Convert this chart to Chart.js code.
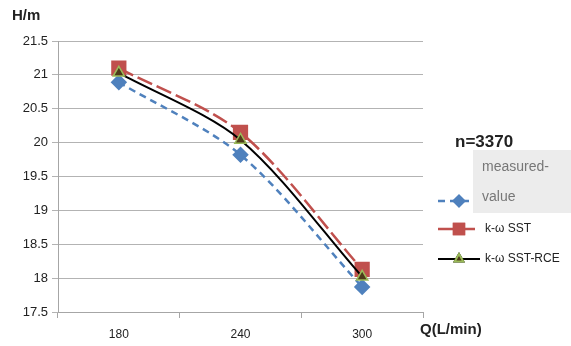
<!DOCTYPE html>
<html lang="en">
<head>
    <meta charset="UTF-8">
    <title>H-Q curve n=3370</title>
    <script src="https://cdn.jsdelivr.net/npm/chart.js"></script>
    <style>
        html, body { margin: 0; padding: 0; background: #fff; }
        #wrap { width: 571px; height: 346px; position: relative; }
    </style>
</head>
<body>
    <div id="wrap"><canvas id="hqChart"></canvas></div>

    <script>
        // Data
        const flowRates = ['180', '240', '300'];
        const measuredValue = [20.89, 19.82, 17.87];
        const kwSST = [21.1, 20.15, 18.13];
        const kwSSTRCE = [21.03, 20.04, 18.02];
        const yTicks = { min: 17.5, max: 21.5, step: 0.5 };

        const font = "'Liberation Sans', Arial, sans-serif";

        // Titles and the custom legend on the right
        const extras = {
            id: 'extras',
            afterDraw(chart) {
                const ctx = chart.ctx;
                ctx.save();
                ctx.fillStyle = '#222';
                ctx.textBaseline = 'middle';
                ctx.font = 'bold 15px ' + font;
                ctx.fillText('H/m', 12, 16);
                ctx.fillText('Q(L/min)', 420, 330);
                ctx.font = 'bold 17px ' + font;
                ctx.fillText('n=3370', 455, 142);

                const ds = chart.data.datasets;
                const rows = [201, 229, 259];
                const legendRadius = [5, 7, 5];
                ds.forEach((d, i) => {
                    const y = rows[i];
                    ctx.save();
                    ctx.strokeStyle = d.borderColor;
                    ctx.lineWidth = d.borderWidth;
                    ctx.setLineDash(d.borderDash || []);
                    ctx.beginPath();
                    ctx.moveTo(438, y);
                    ctx.lineTo(480, y);
                    ctx.stroke();
                    ctx.setLineDash([]);
                    Chart.helpers.drawPoint(ctx, {
                        pointStyle: d.pointStyle,
                        radius: legendRadius[i],
                        borderWidth: 1
                    }, 459, y);
                    ctx.fillStyle = d.pointBackgroundColor;
                    ctx.strokeStyle = d.pointBorderColor;
                    ctx.fill();
                    ctx.stroke();
                    ctx.restore();
                });

                // grey label box of the first entry
                ctx.fillStyle = '#ececec';
                ctx.fillRect(473, 150, 98, 63);
                ctx.fillStyle = '#777';
                ctx.font = '14px ' + font;
                ctx.fillText('measured-', 482, 167);
                ctx.fillText('value', 482, 197);

                ctx.fillStyle = '#222';
                ctx.font = '12px ' + font;
                ctx.fillText(ds[1].label, 485, 229);
                ctx.fillText(ds[2].label, 485, 259);
                ctx.restore();
            }
        };

        const hqChart = new Chart(document.getElementById('hqChart').getContext('2d'), {
            type: 'line',
            data: {
                labels: flowRates,
                datasets: [
                    { label: 'measured-value', data: measuredValue, order: 2,
                      borderColor: '#4f81bd', borderWidth: 2.5, borderDash: [7, 5],
                      pointStyle: 'rectRot', pointRadius: 6.5,
                      pointBackgroundColor: '#4f81bd', pointBorderColor: '#4f81bd', tension: 0.3 },
                    { label: 'k-ω SST', data: kwSST, order: 1,
                      borderColor: '#c0504d', borderWidth: 2.5, borderDash: [16, 5],
                      pointStyle: 'rect', pointRadius: 9,
                      pointBackgroundColor: '#c0504d', pointBorderColor: '#c0504d', tension: 0.3 },
                    { label: 'k-ω SST-RCE', data: kwSSTRCE, order: 0,
                      borderColor: '#000000', borderWidth: 2,
                      pointStyle: 'triangle', pointRadius: 6.5,
                      pointBackgroundColor: '#4d3a1a', pointBorderColor: '#9bbb59', pointBorderWidth: 1.5, tension: 0.3 }
                ]
            },
            options: {
                responsive: true,
                maintainAspectRatio: false,
                animation: false,
                layout: { padding: { left: 0, right: 148, top: 41, bottom: 0 } },
                plugins: { legend: { display: false }, tooltip: { enabled: false } },
                scales: {
                    x: {
                        offset: true,
                        grid: { offset: true, drawOnChartArea: false, tickLength: 6, color: '#a6a6a6' },
                        border: { color: '#a6a6a6' },
                        ticks: { color: '#222', font: { family: font, size: 12 }, padding: 9 },
                        afterFit(scale) { scale.height = 34; }
                    },
                    y: {
                        min: yTicks.min, max: yTicks.max,
                        grid: { color: '#b3b3b3', tickLength: 6 },
                        border: { color: '#a6a6a6' },
                        ticks: { stepSize: yTicks.step, color: '#222', font: { family: font, size: 13 }, padding: 4,
                                 callback: v => String(+v.toFixed(1)) },
                        afterFit(scale) { scale.width = 58; }
                    }
                }
            },
            plugins: [extras]
        });
    </script>
</body>
</html>
